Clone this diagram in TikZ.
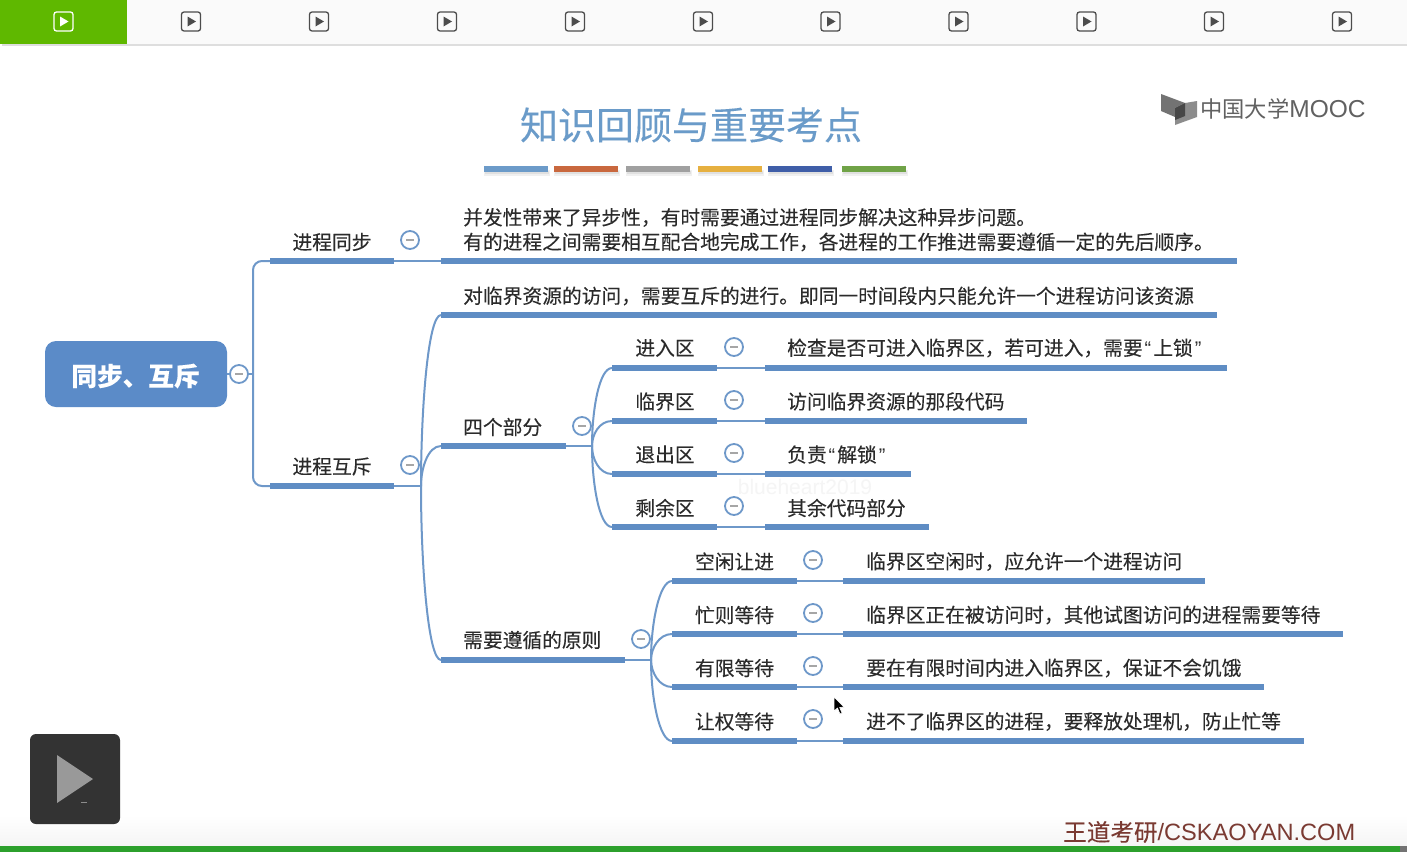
\documentclass[tikz,border=0pt]{standalone}
\usepackage{fontspec}
\setmainfont{Noto Sans CJK SC}[FakeBold=0.12]
\newfontfamily\logofont{Noto Sans CJK SC}
\newfontfamily\latinf{Liberation Sans}
\usetikzlibrary{calc}
\definecolor{mm}{HTML}{5F8DC4}
\definecolor{mmline}{HTML}{6E98C9}
\definecolor{ink}{HTML}{2B2B2B}
\definecolor{brick}{HTML}{7A3A32}
\definecolor{tabgreen}{HTML}{5FB800}
\definecolor{rootfill}{HTML}{5B8BC8}
\definecolor{titleblue}{HTML}{6A9BC9}
\definecolor{ruleA}{HTML}{6C9BC9}
\definecolor{ruleB}{HTML}{C9683E}
\definecolor{ruleC}{HTML}{A0A0A0}
\definecolor{ruleD}{HTML}{E6B040}
\definecolor{ruleE}{HTML}{3F5EA8}
\definecolor{ruleF}{HTML}{70A347}
\definecolor{footgreen}{HTML}{2CA02C}
\newcommand{\fs}[1]{\fontsize{#1}{#1}\selectfont}
\newcommand{\ql}{\kern2pt{\latinf\char"201C}\kern2pt}
\newcommand{\qr}{\kern2pt{\latinf\char"201D}\kern2pt}
\tikzset{
  barn/.style={fill=mm,draw=none,inner sep=0pt,outer sep=0pt,minimum height=5.4pt,anchor=west},
  link/.style={draw=mmline,line width=2pt},
  txt/.style={text=ink,inner sep=0pt,font=\fs{19.75},anchor=west},
  ctxt/.style={text=ink,inner sep=0pt,font=\fs{19.75},anchor=center},
  tog/.style={circle,draw=mmline,fill=white,line width=1.8pt,minimum size=18pt,inner sep=0pt},
  togm/.style={draw=gray!70,line width=1.6pt},
  tab/.style={line width=1.3pt,rounded corners=2.5pt,minimum size=19pt,inner sep=0pt},
  rulebar/.style={inner sep=0pt,outer sep=0pt,minimum height=5.5pt,minimum width=64pt,anchor=west},
}
\newcommand{\barat}[4]{\node[barn,minimum width={(#3-#2)*1pt}] (#1) at (#2,#4) {};}
\newcommand{\togat}[3]{\node[tog] (#1) at (#2,#3) {};\draw[togm] ($(#1.center)+(-4pt,0)$) -- ($(#1.center)+(4pt,0)$);}
\newcommand{\curv}[2]{\draw[link] (#1) .. controls ($(#1)!0.45!(#1|-#2.west)$) and ($(#2.west)+(-13pt,0)$) .. (#2.west);}
\newcommand{\tabat}[3]{\node[tab,draw=#3] (t#1) at (#2,21.5) {};\fill[#3] ($(t#1.center)+(-3.5pt,-5pt)$) -- ($(t#1.center)+(5pt,0)$) -- ($(t#1.center)+(-3.5pt,5pt)$) -- cycle;}
\newcommand{\rulebarat}[3]{\fill[black!6] (#1,170) rectangle (#1+66,176);\fill[black!12] (#1+1,171) rectangle (#1+65,174);\node[rulebar,fill=#2] (#3) at (#1,169) {};}
\begin{document}
\begin{tikzpicture}[x=1pt,y=-1pt]
\useasboundingbox (0,0) rectangle (1407,852);
\fill[white] (0,0) rectangle (1407,852);
% top strip
\fill[black!13] (2,44) rectangle (1407,46);
\fill[black!2] (0,0) rectangle (1407,44);
\fill[tabgreen] (0,0) rectangle (127,44);
\tabat{a}{63.5}{white}
\tabat{b}{191}{black!70}
\tabat{c}{319}{black!70}
\tabat{d}{447}{black!70}
\tabat{e}{575}{black!70}
\tabat{f}{703}{black!70}
\tabat{g}{830.5}{black!70}
\tabat{h}{958.5}{black!70}
\tabat{i}{1086.5}{black!70}
\tabat{j}{1214}{black!70}
\tabat{k}{1342}{black!70}
% title
\node[inner sep=0pt,text=titleblue,font=\fs{38}] (title) at (691,125) {知识回顾与重要考点};
\rulebarat{484}{ruleA}{ra}
\rulebarat{554}{ruleB}{rb}
\rulebarat{626}{ruleC}{rc}
\rulebarat{698}{ruleD}{rd}
\rulebarat{768}{ruleE}{re}
\rulebarat{842}{ruleF}{rf}
% logo
\fill[black!55] (1161,94) -- (1185,103) -- (1175,108) -- (1175,117) -- (1161,111) -- cycle;
\fill[black!45] (1197,101) -- (1197,117) -- (1175,125) -- (1175,108) -- (1185,103) -- cycle;
\fill[black!72] (1175,108) -- (1185,103) -- (1185,116) -- (1175,120) -- cycle;
\node[inner sep=0pt,anchor=west,text=black!62,font=\logofont\fs{22.3}] (logo) at (1200,109) {中国大学{\latinf\fs{24.5}MOOC}};
% root
\node[fill=rootfill,rounded corners=11pt,minimum width=182pt,minimum height=66pt,inner sep=0pt,outer sep=0pt,anchor=west] (root) at (45,374) {};
\node[inner sep=0pt,text=white,font=\fs{25.6}\bfseries] (roott) at (135.5,376) {同步、互斥};
\togat{rt}{239}{374}
\coordinate (trunk) at (253,374);
% level 1
\barat{tb}{270}{394}{261}
\barat{hc}{270}{394}{486}
\node[ctxt] (tbt) at (332,242) {进程同步};
\node[ctxt] (hct) at (332,466.5) {进程互斥};
\togat{tbc}{410}{240}
\togat{hcc}{410}{465}
\draw[link] (root.east) -- (rt.west);
\draw[link] (rt.east) -- (trunk);
\draw[link,rounded corners=9pt] (tb.west) -| (trunk) |- (hc.west);
% sync detail
\barat{tbd}{441}{1237}{261}
\draw[link] (tb.east) -- (tbd.west);
\node[txt] (tbd1) at (463,217.5) {并发性带来了异步性，有时需要通过进程同步解决这种异步问题。};
\node[txt] (tbd2) at (463,242) {有的进程之间需要相互配合地完成工作，各进程的工作推进需要遵循一定的先后顺序。};
% mutex children
\coordinate (hj) at (421,486);
\draw[link] (hc.east) -- (hj);
\barat{h1}{441}{1217}{315}
\barat{h2}{441}{566}{446}
\barat{h3}{441}{625}{660}
\curv{hj}{h1}
\curv{hj}{h2}
\curv{hj}{h3}
\node[txt] (h1t) at (463,296) {对临界资源的访问，需要互斥的进行。即同一时间段内只能允许一个进程访问该资源};
\node[txt] (h2t) at (463,427) {四个部分};
\node[txt] (h3t) at (463,640) {需要遵循的原则};
\togat{h2c}{582}{426}
\togat{h3c}{641}{639}
% four parts
\coordinate (pj) at (592,446);
\draw[link] (h2.east) -- (pj);
\barat{p1}{612}{717}{368}
\barat{p2}{612}{717}{421}
\barat{p3}{612}{717}{474}
\barat{p4}{612}{717}{527}
\curv{pj}{p1}\curv{pj}{p2}\curv{pj}{p3}\curv{pj}{p4}
\barat{q1}{765}{1227}{368}
\barat{q2}{765}{1027}{421}
\barat{q3}{765}{911}{474}
\barat{q4}{765}{929}{527}
\draw[link] (p1.east) -- (q1.west);
\draw[link] (p2.east) -- (q2.west);
\draw[link] (p3.east) -- (q3.west);
\draw[link] (p4.east) -- (q4.west);
\node[ctxt] (p1t) at (665,348) {进入区};
\node[ctxt] (p2t) at (665,401.5) {临界区};
\node[ctxt] (p3t) at (665,454.5) {退出区};
\node[ctxt] (p4t) at (665,508) {剩余区};
\togat{p1c}{734}{347}
\togat{p2c}{734}{400}
\togat{p3c}{734}{453}
\togat{p4c}{734}{506}
\node[txt] (q1t) at (787,348) {检查是否可进入临界区，若可进入，需要\ql 上锁\qr};
\node[txt] (q2t) at (787,401.5) {访问临界资源的那段代码};
\node[txt] (q3t) at (787,454.5) {负责\ql 解锁\qr};
\node[txt] (q4t) at (787,508) {其余代码部分};
% watermark
\node[inner sep=0pt,text=black!4,font=\latinf\fs{21}] (wm) at (805,487) {blueheart2019};
% principles
\coordinate (rj) at (651,660);
\draw[link] (h3.east) -- (rj);
\barat{r1}{672}{797}{581}
\barat{r2}{672}{797}{634}
\barat{r3}{672}{797}{687}
\barat{r4}{672}{797}{741}
\curv{rj}{r1}\curv{rj}{r2}\curv{rj}{r3}\curv{rj}{r4}
\barat{s1}{843}{1205}{581}
\barat{s2}{843}{1343}{634}
\barat{s3}{843}{1264}{687}
\barat{s4}{843}{1304}{741}
\draw[link] (r1.east) -- (s1.west);
\draw[link] (r2.east) -- (s2.west);
\draw[link] (r3.east) -- (s3.west);
\draw[link] (r4.east) -- (s4.west);
\node[ctxt] (r1t) at (734.5,561.5) {空闲让进};
\node[ctxt] (r2t) at (734.5,615) {忙则等待};
\node[ctxt] (r3t) at (734.5,668) {有限等待};
\node[ctxt] (r4t) at (734.5,721.5) {让权等待};
\togat{r1c}{813}{560}
\togat{r2c}{813}{613}
\togat{r3c}{813}{666}
\togat{r4c}{813}{719}
\node[txt] (s1t) at (866,561.5) {临界区空闲时，应允许一个进程访问};
\node[txt] (s2t) at (866,615) {临界区正在被访问时，其他试图访问的进程需要等待};
\node[txt] (s3t) at (866,668) {要在有限时间内进入临界区，保证不会饥饿};
\node[txt] (s4t) at (866,721.5) {进不了临界区的进程，要释放处理机，防止忙等};
% cursor
\fill[black,draw=white,line width=.6pt] (834,697) -- (834,711) -- (837.5,708) -- (840,714) -- (842,713) -- (839.7,707.5) -- (844,707) -- cycle;
% footer
\shade[top color=white,bottom color=black!4] (0,815) rectangle (1407,846);
\fill[footgreen] (0,846) rectangle (1407,852);
\fill[black!55] (1400,846) rectangle (1407,852);
\node[inner sep=0pt,anchor=west,text=brick,font=\fs{23.6}] (foot) at (1063,832) {王道考研{\latinf /CSKAOYAN.COM}};
% play button
\node[fill=black!80,rounded corners=6pt,minimum size=90pt,inner sep=0pt] (play) at (75,779) {};
\fill[black!40] (57,755) -- (93,779) -- (57,803) -- cycle;
\fill[black!45] (81,802) rectangle (87,803);
\end{tikzpicture}
\end{document}
